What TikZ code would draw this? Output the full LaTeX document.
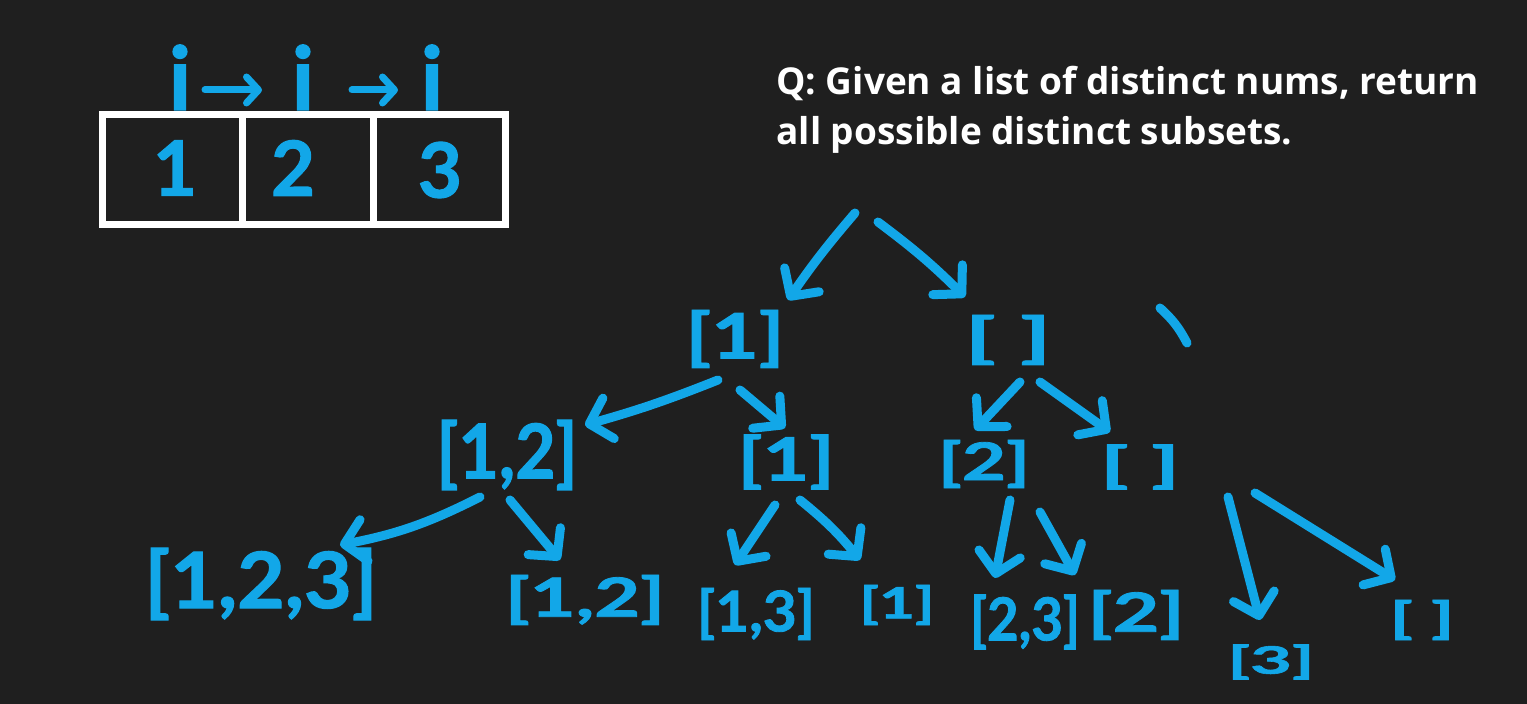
\documentclass[tikz,border=0pt]{standalone}
\usepackage{fontspec}
\usepackage{graphicx}
\setmainfont{Lato}
\newfontfamily\penfont[FakeBold=1.5]{Lato}
\newfontfamily\titlefont{Open Sans}
\usetikzlibrary{arrows.meta,calc}
\definecolor{bg}{HTML}{1F1F1F}
\definecolor{pen}{HTML}{12A7E8}
\newcommand{\lab}[3]{\resizebox*{#1pt}{#2pt}{\penfont\bfseries #3}}
\tikzset{
  arr/.style={draw=pen, line width=4.5pt, line cap=round, line join=round,
    -{Straight Barb[length=10pt,width=21pt,round]}},
  sarr/.style={draw=pen, line width=3.5pt, line cap=round, line join=round,
    -{Straight Barb[length=6pt,width=13pt,round]}},
  lbl/.style={text=pen, inner sep=0pt, outer sep=0pt},
  cell/.style={draw=white, line width=3.5pt, minimum height=55pt, inner sep=0pt},
  digit/.style={text=pen, font=\penfont\fontsize{38}{40}\selectfont\bfseries, inner sep=0pt},
  ilab/.style={text=pen, font=\penfont\fontsize{44}{44}\selectfont\bfseries, inner sep=0pt, anchor=base},
  title/.style={text=white, anchor=base west, inner sep=0pt, font=\titlefont\bfseries\fontsize{18.5}{22}\selectfont}
}
\begin{document}
\begin{tikzpicture}[x=0.5pt,y=-0.5pt]
\fill[bg] (0,0) rectangle (1527,704);
\useasboundingbox (0,0) rectangle (1527,704);

% array
\node[cell, minimum width=70pt] (c1) at (172.5,169.5) {};
\node[cell, minimum width=65.5pt] (c2) at (308,169.5) {};
\node[cell, minimum width=66pt] (c3) at (439.5,169.5) {};
\node[digit] (d1) at (175,168) {1};
\node[digit] (d2) at (293,168) {2};
\node[digit] (d3) at (440,170) {3};
\node[ilab] (i1) at (180,110) {i};
\node[ilab] (i2) at (303,110) {i};
\node[ilab] (i3) at (432,110) {i};
\draw[sarr] ($(i1.base)+(25,-20)$) -- ($(i2.base)+(-41,-20)$);
\draw[sarr] ($(i2.base)+(49,-20)$) -- ($(i3.base)+(-34,-20)$);

% title
\node[title] (q1) at (776,95) {Q: Given a list of distinct nums, return};
\node[title] (q2) at (776,145) {all possible distinct subsets.};

% tree labels
\node[lbl] (L1a) at (735,339) {\lab{49.5}{29}{[1]}};
\node[lbl] (L1b) at (1008,340) {\lab{43.5}{25}{[ ]}};
\node[lbl] (L2a) at (507,455) {\lab{70.5}{35}{[1,2]}};
\node[lbl] (L2b) at (786,462) {\lab{48.5}{27.5}{[1]}};
\node[lbl] (L2c) at (984,464) {\lab{46}{24}{[2]}};
\node[lbl] (L2d) at (1140,467) {\lab{40}{22.5}{[ ]}};
\node[lbl] (L3a) at (261,584) {\lab{116.5}{36}{[1,2,3]}};
\node[lbl] (L3b) at (585,600) {\lab{80}{25}{[1,2]}};
\node[lbl] (L3c) at (756,614) {\lab{59}{26}{[1,3]}};
\node[lbl] (L3d) at (897,605) {\lab{37.5}{20}{[1]}};
\node[lbl] (L3e) at (1025,622) {\lab{55}{27.5}{[2,3]}};
\node[lbl] (L3f) at (1136,615) {\lab{48.5}{25}{[2]}};
\node[lbl] (L3g) at (1271,662) {\lab{43.5}{17.5}{[3]}};
\node[lbl] (L3h) at (1422,620) {\lab{32.5}{20}{[ ]}};

% tree connectors
\coordinate (root) at (866,210);
\draw[arr] ($(root)+(-11,3)$) to[bend right=3] ($(L1a)+(53,-39)$);
\draw[arr] ($(root)+(12,12)$) to[bend left=4] ($(L1b)+(-43,-43)$);
\draw[arr] ($(L1a)+(-17,41)$) to[bend left=3] ($(L2a)+(78,-30)$);
\draw[arr] ($(L1a)+(5,51)$) -- ($(L2b)+(-1,-34)$);
\draw[arr] ($(L1b)+(12,42)$) -- ($(L2c)+(-9,-34)$);
\draw[arr] ($(L1b)+(32,42)$) -- ($(L2d)+(-30,-35)$);
\draw[arr] ($(L2a)+(-27,42)$) to[bend left=8] ($(L3a)+(79,-39)$);
\draw[arr] ($(L2a)+(3,45)$) -- ($(L3b)+(-25,-40)$);
\draw[arr] ($(L2b)+(-11,43)$) -- ($(L3c)+(-21,-49)$);
\draw[arr] ($(L2b)+(14,38)$) to[bend left=6] ($(L3d)+(-37,-45)$);
\draw[arr] ($(L2c)+(26,36)$) -- ($(L3e)+(-30,-44)$);
\draw[arr] ($(L2c)+(56,48)$) -- ($(L3f)+(-61,-40)$);
\draw[arr] ($(L2d)+(88,30)$) -- ($(L3g)+(-11,-42)$);
\draw[arr] ($(L2d)+(115,26)$) -- ($(L3h)+(-27,-40)$);

% stray stroke
\draw[pen, line width=4.5pt, line cap=round] (1160,308) to[bend left=10] (1187,343);
\end{tikzpicture}
\end{document}
